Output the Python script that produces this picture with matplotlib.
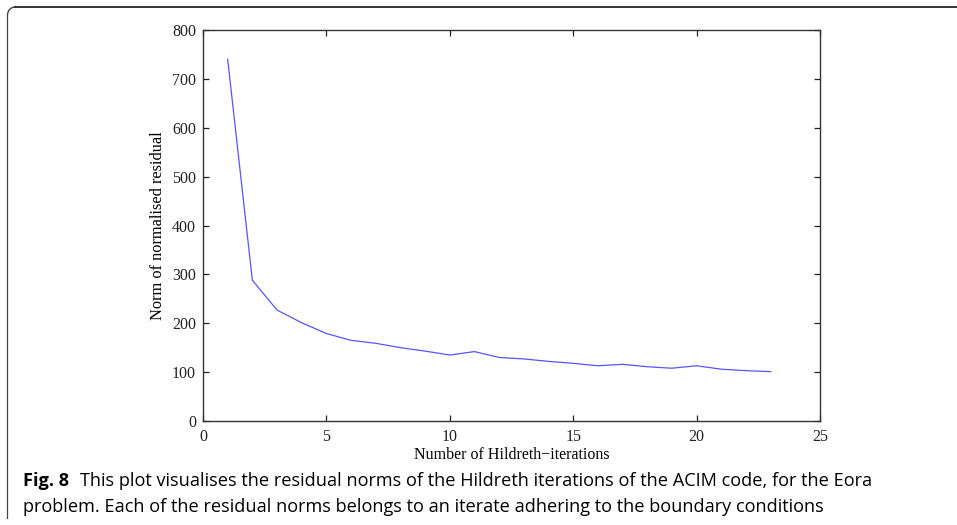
import matplotlib
matplotlib.use("Agg")
import matplotlib.pyplot as plt
from matplotlib.lines import Line2D
from matplotlib.patches import Arc

iterations = list(range(1, 24))
residual_norm = [740, 288, 227, 201, 179, 165, 159, 150, 143, 135,
                 142, 130, 127, 122, 118, 113, 116, 111, 108, 113,
                 106, 103, 101]
x_ticks = [0, 5, 10, 15, 20, 25]
y_ticks = [0, 100, 200, 300, 400, 500, 600, 700, 800]

W, H = 957, 525
fig = plt.figure(figsize=(W / 100, H / 100), dpi=100)
ax = fig.add_axes([203 / W, 1 - 421 / H, (820 - 203) / W, (421 - 30) / H])

ax.plot(iterations, residual_norm, color="#5555ff", linewidth=0.9)
ax.set_xlim(0, 25)
ax.set_ylim(0, 800)
ax.set_xticks(x_ticks)
ax.set_yticks(y_ticks)

serif = ["Liberation Serif", "DejaVu Serif"]
for lab in ax.get_xticklabels() + ax.get_yticklabels():
    lab.set_fontfamily(serif)
    lab.set_fontsize(11.5)
ax.tick_params(direction="in", top=True, right=True, length=4.5, width=0.9,
               colors="#222222", pad=5)
ax.tick_params(axis="x", pad=5.5)
for s in ax.spines.values():
    s.set_color("#333333")
    s.set_linewidth(1.0)

ax.set_xlabel("Number of Hildreth\u2212iterations", family=serif, fontsize=11.5,
              labelpad=1.5)
ax.set_ylabel("Norm of normalised residual", family=serif, fontsize=11.8,
              labelpad=4)

# frame around figure
fig.add_artist(Line2D([15 / W, 1.0], [1 - 7 / H, 1 - 7 / H], color="#222222",
                      linewidth=1.3, transform=fig.transFigure))
fig.add_artist(Line2D([7.5 / W, 7.5 / W], [1 - 15 / H, 1 - 518 / H], color="#444444",
                      linewidth=0.9, transform=fig.transFigure))
fig.add_artist(Arc((15 / W, 1 - 15 / H), 15 / W, 16 / H, theta1=90, theta2=180,
                   color="#444444", linewidth=1.0, transform=fig.transFigure))

sans = ["Open Sans", "DejaVu Sans"]
fs = 13.1
fig.text(23 / W, 1 - 481 / H, "Fig. 8", family=sans, fontweight="bold",
         fontsize=fs, va="center", ha="left")
fig.text(80 / W, 1 - 481 / H,
         "This plot visualises the residual norms of the Hildreth iterations of the ACIM code, for the Eora",
         family=sans, fontsize=fs, va="center", ha="left")
fig.text(23 / W, 1 - 507 / H,
         "problem. Each of the residual norms belongs to an iterate adhering to the boundary conditions",
         family=sans, fontsize=fs, va="center", ha="left")

fig.savefig("out.png", dpi=100)
